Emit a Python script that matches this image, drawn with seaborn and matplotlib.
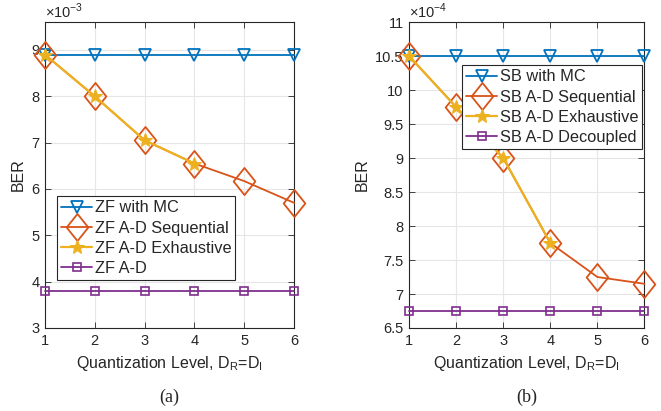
import matplotlib
matplotlib.use("Agg")
import matplotlib.pyplot as plt
import seaborn as sns
import numpy as np
from matplotlib.path import Path

sns.set_theme(style="whitegrid")
plt.rcParams['font.family'] = ['Liberation Sans', 'DejaVu Sans']
plt.rcParams['mathtext.fontset'] = 'custom'
plt.rcParams['mathtext.rm'] = 'Liberation Sans'

levels = [1, 2, 3, 4, 5, 6]
levels_exh = [1, 2, 3, 4]

# (a) ZF, BER in units of 1e-3
zf_mc = [8.9, 8.9, 8.9, 8.9, 8.9, 8.9]
zf_seq = [8.9, 8.0, 7.05, 6.55, 6.17, 5.7]
zf_exh = [8.9, 8.0, 7.05, 6.55]
zf_ad = [3.8, 3.8, 3.8, 3.8, 3.8, 3.8]

# (b) SB, BER in units of 1e-4
sb_mc = [10.5, 10.5, 10.5, 10.5, 10.5, 10.5]
sb_seq = [10.5, 9.75, 9.0, 7.75, 7.25, 7.15]
sb_exh = [10.5, 9.75, 9.0, 7.75]
sb_dec = [6.75, 6.75, 6.75, 6.75, 6.75, 6.75]

C_BLUE = '#0072BD'
C_RED = '#D95319'
C_YEL = '#EDB120'
C_PUR = '#7E2F8E'

DIAMOND = Path([(0, 1), (0.8, 0), (0, -1), (-0.8, 0), (0, 1)],
               [Path.MOVETO, Path.LINETO, Path.LINETO, Path.LINETO, Path.CLOSEPOLY])

fig = plt.figure(figsize=(6.61, 4.11), dpi=100)
axa = fig.add_axes([0.068, 0.202, 0.377, 0.744])
axb = fig.add_axes([0.619, 0.202, 0.356, 0.744])


def draw(ax, mc, seq, exh, dec, names):
    sns.lineplot(x=levels, y=mc, ax=ax, color=C_BLUE, marker='v', markersize=8,
                 markerfacecolor='none', markeredgecolor=C_BLUE, markeredgewidth=1.3,
                 linewidth=1.3, label=names[0], clip_on=False, zorder=3)
    sns.lineplot(x=levels, y=seq, ax=ax, color=C_RED, marker=DIAMOND, markersize=19.5,
                 markerfacecolor='none', markeredgecolor=C_RED, markeredgewidth=1.3,
                 linewidth=1.3, label=names[1], clip_on=False, zorder=3)
    sns.lineplot(x=levels_exh, y=exh, ax=ax, color=C_YEL, marker='*', markersize=10.5,
                 markerfacecolor=C_YEL, markeredgecolor=C_YEL,
                 linewidth=1.6, label=names[2], clip_on=False, zorder=3)
    sns.lineplot(x=levels, y=dec, ax=ax, color=C_PUR, marker='s', markersize=5.5,
                 markerfacecolor='none', markeredgecolor=C_PUR, markeredgewidth=1.2,
                 linewidth=1.3, label=names[3], clip_on=False, zorder=3)


draw(axa, zf_mc, zf_seq, zf_exh, zf_ad,
     ['ZF with MC', 'ZF A-D Sequential', 'ZF A-D Exhaustive', 'ZF A-D'])
draw(axb, sb_mc, sb_seq, sb_exh, sb_dec,
     ['SB with MC', 'SB A-D Sequential', 'SB A-D Exhaustive', 'SB A-D Decoupled'])

axa.set_xlim(1, 6)
axa.set_ylim(3, 9.6)
axa.set_yticks([3, 4, 5, 6, 7, 8, 9])
axb.set_xlim(1, 6)
axb.set_ylim(6.5, 11)
axb.set_yticks([6.5, 7, 7.5, 8, 8.5, 9, 9.5, 10, 10.5, 11])
axb.set_yticklabels(['6.5', '7', '7.5', '8', '8.5', '9', '9.5', '10', '10.5', '11'])

for ax, exp in [(axa, '-3'), (axb, '-4')]:
    ax.set_xticks(levels)
    ax.set_facecolor('white')
    ax.grid(True, color='#e6e6e6', linewidth=0.8)
    for s in ax.spines.values():
        s.set_color('#262626')
        s.set_linewidth(0.8)
        s.set_visible(True)
        s.set_zorder(2.5)
    ax.tick_params(direction='in', length=4, width=0.6, colors='#262626',
                   labelsize=10.5, top=True, right=True, bottom=True, left=True, pad=4)
    ax.set_xlabel(r'Quantization Level, D$_\mathregular{R}$=D$_\mathregular{I}$',
                  fontsize=11.5, color='#262626', labelpad=5)
    ax.set_ylabel('BER', fontsize=11.5, color='#262626', labelpad=4)
    ax.text(0.0, 1.005, r'$\times$10$^{' + exp + '}$', transform=ax.transAxes,
            fontsize=10.5, color='#262626', ha='left', va='bottom')

leg_kw = dict(frameon=True, fancybox=False, edgecolor='#262626', fontsize=11.8,
              handlelength=1.9, handletextpad=0.15, borderpad=0.25, labelspacing=0.32,
              borderaxespad=0, framealpha=1)
la = axa.legend(loc='upper left', bbox_to_anchor=(0.048, 0.431), **leg_kw)
lb = axb.legend(loc='upper right', bbox_to_anchor=(0.991, 0.859), **leg_kw)
for lg in (la, lb):
    lg.get_frame().set_linewidth(0.8)
    lg.set_zorder(5)

fig.text(0.068 + 0.377 / 2, 0.012, '(a)', family=['Liberation Serif'], fontsize=13,
         ha='center', va='bottom')
fig.text(0.619 + 0.356 / 2, 0.012, '(b)', family=['Liberation Serif'], fontsize=13,
         ha='center', va='bottom')

fig.savefig('out.png', dpi=100, facecolor='white')
